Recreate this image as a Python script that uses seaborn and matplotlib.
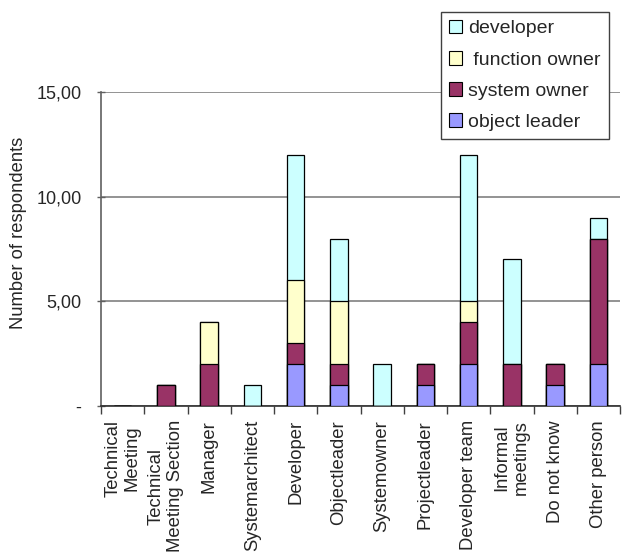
import matplotlib
matplotlib.use("Agg")
import matplotlib.pyplot as plt
from matplotlib.patches import Patch
from matplotlib.ticker import FixedLocator
import numpy as np
import pandas as pd
import seaborn as sns

categories = ["Technical\nMeeting", "Technical\nMeeting Section", "Manager",
              "Systemarchitect", "Developer", "Objectleader", "Systemowner",
              "Projectleader", "Developer team", "Informal\nmeetings",
              "Do not know", "Other person"]
object_leader = [0, 0, 0, 0, 2, 1, 0, 1, 2, 0, 1, 2]
system_owner = [0, 1, 2, 0, 1, 1, 0, 1, 2, 2, 1, 6]
function_owner = [0, 0, 2, 0, 3, 3, 0, 0, 1, 0, 0, 0]
developer = [0, 0, 0, 1, 6, 3, 2, 0, 7, 5, 0, 1]

series_names = ["object leader", "system owner", " function owner", "developer"]
series_values = [object_leader, system_owner, function_owner, developer]
series_colors = ["#9999FF", "#993366", "#FFFFCC", "#CCFFFF"]
yticks = [0, 5, 10, 15]
ytick_labels = ["-", "5,00", "10,00", "15,00"]

sns.set_style("white")
plt.rcParams["font.family"] = ["Liberation Sans", "DejaVu Sans"]

fig = plt.figure(figsize=(6.22, 5.53), dpi=100)
ax = fig.add_axes([101 / 622, 1 - 406 / 553, 519 / 622, 314 / 553])

cum = np.cumsum(np.array(series_values, dtype=float), axis=0)
# draw from the top layer down so lower segments overlay upper cumulative bars
for i in range(len(series_names) - 1, -1, -1):
    df = pd.DataFrame({"category": categories, "value": cum[i]})
    sns.barplot(data=df, x="category", y="value", order=categories,
                color=series_colors[i], saturation=1, edgecolor="black",
                linewidth=0.9, width=0.4, errorbar=None, ax=ax, zorder=3)

ax.set_xlim(-0.5, len(categories) - 0.5)
ax.set_ylim(0, 15)
ax.set_yticks(yticks)
ax.set_yticklabels(ytick_labels, fontsize=13)
ax.yaxis.grid(True, color="#808080", linewidth=1.2, zorder=0)
ax.set_axisbelow(True)
ax.set_ylabel("Number of respondents", fontsize=13.2)
ax.yaxis.set_label_coords(-0.1426, 0.551)
ax.set_xlabel("")

ax.set_xticks(range(len(categories)))
ax.set_xticklabels(categories, rotation=90, fontsize=13.3, va="top", ha="center")
ax.tick_params(axis="x", which="major", length=0, pad=10)
ax.xaxis.set_minor_locator(FixedLocator(np.arange(-0.5, len(categories), 1.0)))
ax.tick_params(axis="x", which="minor", length=6, width=1, color="#404040",
               direction="out", bottom=True)
ax.tick_params(axis="y", which="major", length=6, width=1, color="#606060",
               direction="inout", left=True, pad=11)

for s in ["top", "right"]:
    ax.spines[s].set_visible(False)
ax.spines["left"].set_color("#606060")
ax.spines["bottom"].set_color("#303030")
ax.spines["left"].set_linewidth(1.2)
ax.spines["bottom"].set_linewidth(1.2)

handles = [Patch(facecolor=series_colors[i], edgecolor="black", linewidth=0.8)
           for i in range(len(series_names) - 1, -1, -1)]
labels = [series_names[i] for i in range(len(series_names) - 1, -1, -1)]
leg = fig.legend(handles, labels, loc="upper left",
                 bbox_to_anchor=(441 / 622, 1 - 12 / 553), fontsize=14,
                 frameon=True, fancybox=False, shadow=False,
                 handlelength=0.7, handleheight=0.7, handletextpad=0.3,
                 labelspacing=0.7, borderpad=0.4, borderaxespad=0)
leg.get_frame().set_edgecolor("#404040")
leg.get_frame().set_linewidth(1.0)
leg.get_frame().set_facecolor("white")
leg.get_frame().set_alpha(1)
leg.set_zorder(10)

fig.savefig("out.png", dpi=100)
